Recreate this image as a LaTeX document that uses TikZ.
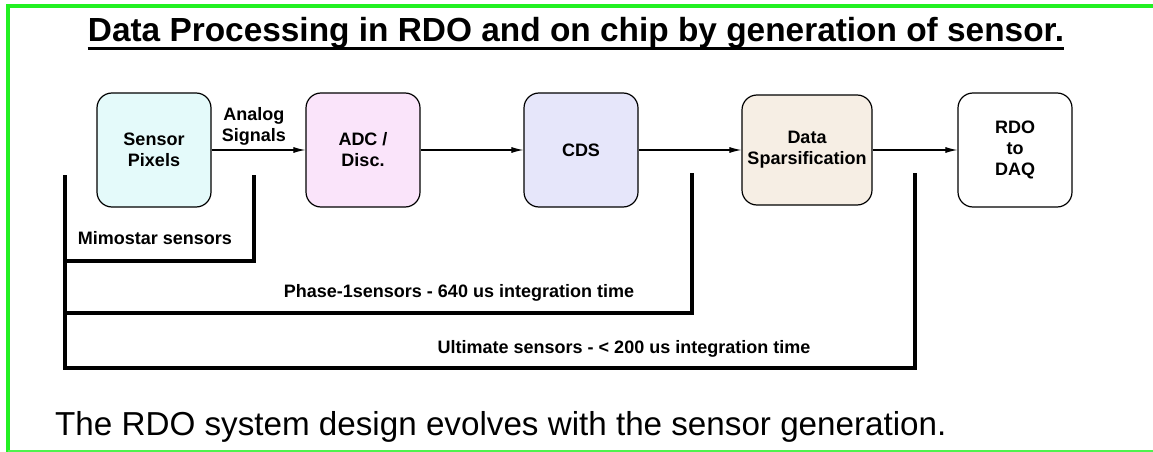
\documentclass[tikz,border=0pt]{standalone}
\usepackage{fontspec}
\setmainfont{Liberation Sans}
\usetikzlibrary{arrows.meta}
\definecolor{framegreen}{HTML}{22F022}
\definecolor{pixfill}{HTML}{E4FAFA}
\definecolor{adcfill}{HTML}{FAE4FA}
\definecolor{cdsfill}{HTML}{E6E6FA}
\definecolor{spafill}{HTML}{F6EEE4}
\tikzset{
  blk/.style={draw, rounded corners=15pt, line width=1.2pt, minimum width=114pt,
    minimum height=114pt, inner sep=2pt, align=center,
    font=\fontsize{18}{21}\selectfont\bfseries},
  flow/.style={-{Latex[length=12pt,width=6pt]}, line width=1.1pt},
  bracket/.style={line width=3.6pt},
  lbl/.style={font=\fontsize{18}{21}\selectfont\bfseries, align=center}
}
\begin{document}
\begin{tikzpicture}[x=1pt,y=-1pt]
\useasboundingbox (0,0) rectangle (1153,452);
% frame
\draw[framegreen, line width=3.5pt] (1153,6) -- (8,6) -- (8,452);
\draw[framegreen!80, line width=2pt] (8,451) -- (1153,451);

% title
\draw (576,42) node[anchor=base, inner sep=0pt, font=\fontsize{33.4}{37}\selectfont\bfseries] (title)
  {Data Processing in RDO and on chip by generation of sensor.};
\draw[line width=3pt] ([yshift=-7pt]title.base west) -- ([yshift=-7pt]title.base east);

% processing chain
\draw (154,150) node[blk, fill=pixfill] (pix) {Sensor\\Pixels};
\draw (363,150) node[blk, fill=adcfill] (adc) {ADC /\\Disc.};
\draw (581,150) node[blk, fill=cdsfill] (cds) {CDS};
\draw (807,150) node[blk, fill=spafill, minimum width=130pt, minimum height=110pt] (spa) {Data\\Sparsification};
\draw (1015,150) node[blk] (daq) {RDO\\to\\DAQ};

\draw[flow] (pix) -- node[lbl, above=1pt, pos=.45] (ana) {Analog\\Signals} (adc);
\draw[flow] (adc) -- (cds);
\draw[flow] (cds) -- (spa);
\draw[flow] (spa) -- (daq);

% sensor generations
\coordinate (mimoT) at (65,175);
\coordinate (mimoB) at (65,261);
\coordinate (phaseB) at (65,313);
\coordinate (ultB) at (65,368);
\coordinate (mimoR) at (254,175);
\coordinate (phaseR) at (692,173);
\coordinate (ultR) at (915,173);

\draw[bracket] (mimoT) -- (ultB) -| (ultR);
\draw[bracket] (mimoB) -| (mimoR);
\draw[bracket] (phaseB) -| (phaseR);

\draw (155,238) node[lbl] (mimo) {Mimostar sensors};
\draw (459,293) node[lbl] (phase) {Phase-1sensors - 640 us integration time};
\draw (624,349) node[lbl] (ult) {Ultimate sensors - < 200 us integration time};

\draw (55,435) node[anchor=base west, inner sep=0pt, font=\fontsize{33.2}{38}\selectfont] (note)
  {The RDO system design evolves with the sensor generation.};
\end{tikzpicture}
\end{document}
